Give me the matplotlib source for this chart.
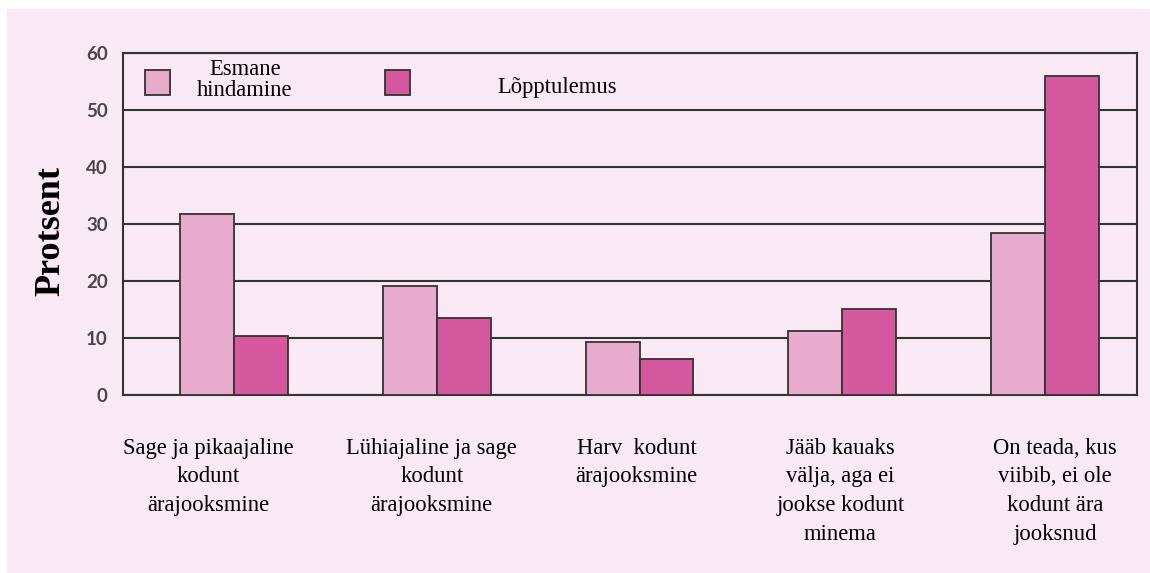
import matplotlib
matplotlib.use("Agg")
import matplotlib.pyplot as plt
import matplotlib.transforms as mtransforms
from matplotlib.patches import Rectangle
import numpy as np

categories = [
    "Sage ja pikaajaline\nkodunt\närajooksmine",
    "Lühiajaline ja sage\nkodunt\närajooksmine",
    "Harv  kodunt\närajooksmine",
    "Jääb kauaks\nvälja, aga ei\njookse kodunt\nminema",
    "On teada, kus\nviibib, ei ole\nkodunt ära\njooksnud",
]
esmane = [31.7, 19.1, 9.2, 11.2, 28.4]
lopp = [10.2, 13.5, 6.2, 15.1, 56.0]
series_names = ["Esmane\nhindamine", "Lõpptulemus"]
yticks = [0, 10, 20, 30, 40, 50, 60]

c_light = "#e9abcd"
c_dark = "#d6589f"
bg = "#f9e9f4"
edge = "#333333"

fig = plt.figure(figsize=(11.5, 5.73), dpi=100, facecolor="white")
fig.patches.append(Rectangle((7/1150, 0), 1, 1 - 9/573, transform=fig.transFigure,
                             facecolor=bg, edgecolor="none", zorder=-10))
ax = fig.add_axes([123/1150, 1 - 394.5/573, (1137-123)/1150, (394.5-53)/573])
ax.set_facecolor(bg)

x = np.arange(len(categories))
w = 0.266
ax.bar(x - w/2, esmane, w, color=c_light, edgecolor=edge, linewidth=1.3, zorder=3)
ax.bar(x + w/2, lopp, w, color=c_dark, edgecolor=edge, linewidth=1.3, zorder=3)

ax.set_xlim(-0.547, 4.453)
ax.set_ylim(0, 60)
ax.set_yticks(yticks)
ax.set_yticklabels([str(v) for v in yticks], fontfamily="Lato", fontsize=13.5,
                   fontweight="bold", color="#484848")
ax.yaxis.grid(True, color=edge, linewidth=1.5, zorder=1)
ax.set_axisbelow(True)
for s in ax.spines.values():
    s.set_color(edge)
    s.set_linewidth(1.5)
ax.tick_params(axis="y", length=0, pad=11)
ax.tick_params(axis="x", length=0, pad=31)
ax.set_xticks(x)
labels = ax.set_xticklabels(categories, fontfamily="Liberation Serif", fontsize=16.3,
                            linespacing=1.48, va="top", ha="center")
# small horizontal nudges (in pixels) to follow the original text boxes
nudges = [-26, -5, -3, -2, 10]
for lab, dx in zip(labels, nudges):
    lab.set_transform(lab.get_transform() +
                      mtransforms.ScaledTranslation(dx/100, 0, fig.dpi_scale_trans))
ax.set_ylabel("Protsent", fontfamily="Liberation Serif", fontsize=26,
              fontweight="bold")
ax.yaxis.set_label_coords(-0.055, 0.48)

# legend (manual)
for (px, col) in [(145, c_light), (385, c_dark)]:
    fig.patches.append(Rectangle((px/1150, 1 - 95/573), 25/1150, 25/573,
                                 transform=fig.transFigure, facecolor=col,
                                 edgecolor=edge, linewidth=1.3, zorder=5))
fig.text(245/1150, 1 - 80/573, series_names[0], fontfamily="Liberation Serif",
         fontsize=16.3, ha="center", va="center", linespacing=0.95)
fig.text(557/1150, 1 - 88/573, series_names[1], fontfamily="Liberation Serif",
         fontsize=16.3, ha="center", va="center")

fig.savefig("out.png", dpi=100, facecolor="white")
